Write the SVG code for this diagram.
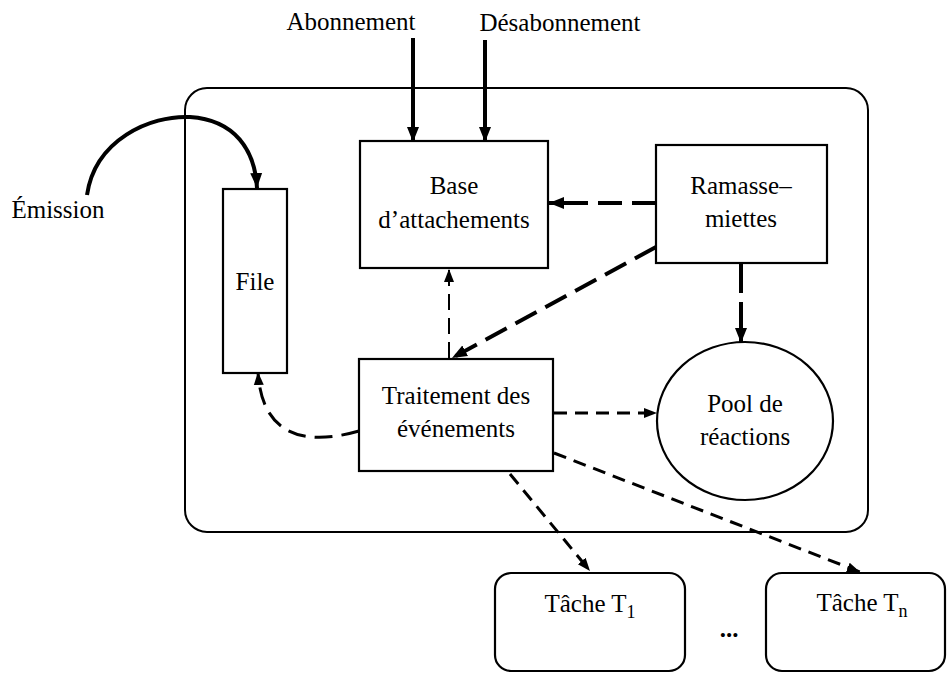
<svg xmlns="http://www.w3.org/2000/svg" width="947" height="673" viewBox="0 0 947 673">
<defs>
<style>
.box{fill:#fff;stroke:#000;stroke-width:2.2}
.t{font-family:'Liberation Serif','Tinos','DejaVu Serif',serif;font-size:25px;fill:#000;text-anchor:middle}
.c{fill:none;stroke:#000;stroke-linecap:butt}
.thick{stroke-width:4}
.med{stroke-width:3}
.thin{stroke-width:2}
</style>
<marker id="ah" markerUnits="userSpaceOnUse" markerWidth="16" markerHeight="14" refX="15" refY="7" orient="auto">
<path d="M0,1 L15,7 L0,13 Z" fill="#000"/>
</marker>
<marker id="ahs" markerUnits="userSpaceOnUse" markerWidth="14" markerHeight="12" refX="13" refY="6" orient="auto">
<path d="M0,1 L13,6 L0,11 Z" fill="#000"/>
</marker>
</defs>

<rect id="system" x="185" y="88" width="683" height="444" rx="22" fill="none" stroke="#000" stroke-width="2"/>

<g id="connectors">
<line class="c thick" x1="413" y1="38" x2="413" y2="142" marker-end="url(#ah)"/>
<line class="c thick" x1="485" y1="40" x2="485" y2="142" marker-end="url(#ah)"/>
<path class="c thick" d="M87,195 C95,140 150,115 190,117 C235,120 255,150 257,188" marker-end="url(#ah)"/>
<line class="c thick" x1="656" y1="203" x2="549" y2="203" stroke-dasharray="24 10" marker-end="url(#ah)"/>
<line class="c thick" x1="656" y1="247" x2="452" y2="358" stroke-dasharray="24 10" marker-end="url(#ah)"/>
<line class="c thick" x1="741" y1="263" x2="741" y2="343" stroke-dasharray="30 9 100" marker-end="url(#ah)"/>
<line class="c thin" x1="449" y1="358" x2="449" y2="269" stroke-dasharray="16 8" marker-end="url(#ahs)"/>
<path class="c med" d="M359,431 C310,445 262,440 258,372" stroke-dasharray="18 9" marker-end="url(#ahs)"/>
<line class="c med" x1="554" y1="413" x2="657" y2="413" stroke-dasharray="13 8" marker-end="url(#ahs)"/>
<line class="c med" x1="510" y1="474" x2="590" y2="571" stroke-dasharray="13 8" marker-end="url(#ahs)"/>
<line class="c med" x1="554" y1="453" x2="860" y2="572" stroke-dasharray="13 8" marker-end="url(#ahs)"/>
</g>

<g id="abonnement"><text class="t" x="351" y="30">Abonnement</text></g>
<g id="desabonnement"><text class="t" x="560" y="31">Désabonnement</text></g>
<g id="emission"><text class="t" x="58" y="218">Émission</text></g>

<g id="file">
<rect class="box" x="223" y="189" width="64" height="184"/>
<text class="t" x="255" y="290">File</text>
</g>

<g id="base">
<rect class="box" x="360" y="141" width="188" height="127"/>
<text class="t" x="454" y="194">Base</text>
<text class="t" x="454" y="228">d’attachements</text>
</g>

<g id="ramasse">
<rect class="box" x="656" y="145" width="171" height="118"/>
<text class="t" x="741" y="194">Ramasse–</text>
<text class="t" x="741" y="227">miettes</text>
</g>

<g id="traitement">
<rect class="box" x="359" y="359" width="194" height="112"/>
<text class="t" x="456" y="404">Traitement des</text>
<text class="t" x="456" y="437">événements</text>
</g>

<g id="pool">
<ellipse class="box" cx="745" cy="421" rx="88" ry="79"/>
<text class="t" x="745" y="412">Pool de</text>
<text class="t" x="745" y="445">réactions</text>
</g>

<g id="tache1">
<rect class="box" x="495" y="573" width="190" height="98" rx="16"/>
<text class="t" x="590" y="612">Tâche T<tspan font-size="18" dy="6">1</tspan></text>
</g>

<g id="dots"><text class="t" x="729" y="637" font-weight="bold">...</text></g>

<g id="tachen">
<rect class="box" x="766" y="573" width="179" height="98" rx="16"/>
<text class="t" x="862" y="611">Tâche T<tspan font-size="18" dy="6">n</tspan></text>
</g>
</svg>
